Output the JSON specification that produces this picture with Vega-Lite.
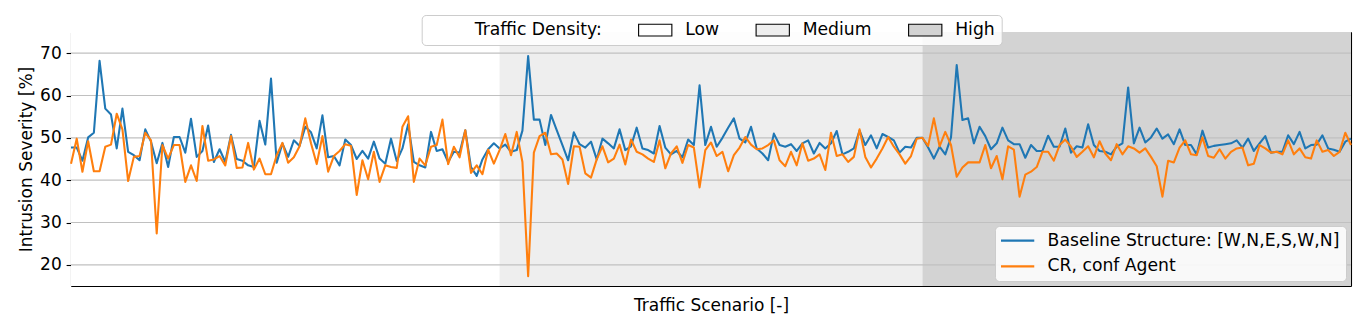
{
  "$schema": "https://vega.github.io/schema/vega-lite/v6.json",
  "width": 1280,
  "height": 254,
  "autosize": {"type": "none"},
  "padding": {"left": 71, "top": 32, "right": 15, "bottom": 35},
  "background": "#ffffff",
  "config": {
    "font": "DejaVu Sans",
    "view": {"stroke": null},
    "axis": {
      "labelFont": "DejaVu Sans",
      "titleFont": "DejaVu Sans",
      "labelFontSize": 17,
      "titleFontSize": 17,
      "titleFontWeight": "normal",
      "labelColor": "#000000",
      "titleColor": "#000000",
      "tickColor": "#000000",
      "domainColor": "#000000",
      "domainWidth": 1.1,
      "tickWidth": 1.1,
      "grid": false,
      "zindex": 1
    },
    "legend": {
      "labelFont": "DejaVu Sans",
      "labelFontSize": 17.2,
      "labelColor": "#000000",
      "labelLimit": 400
    }
  },
  "layer": [
    {
      "data": {
        "values": [
          {"density": "Low", "start": 0, "end": 75},
          {"density": "Medium", "start": 75, "end": 149},
          {"density": "High", "start": 149, "end": 224}
        ]
      },
      "mark": {"type": "rect", "strokeWidth": 0},
      "encoding": {
        "x": {
          "field": "start",
          "type": "quantitative",
          "scale": {"domain": [0, 224], "nice": false, "zero": false},
          "axis": {
            "orient": "bottom",
            "title": "Traffic Scenario [-]",
            "labels": false,
            "ticks": false,
            "domain": true,
            "titlePadding": 11
          }
        },
        "x2": {"field": "end"},
        "fill": {
          "field": "density",
          "type": "nominal",
          "scale": {
            "domain": ["Traffic Density:", "Low", "Medium", "High"],
            "range": ["transparent", "#ffffff", "#eeeeee", "#d3d3d3"]
          },
          "legend": {
            "orient": "none",
            "legendX": 350.7,
            "legendY": -17,
            "direction": "horizontal",
            "title": null,
            "symbolType": "M-1.433,-0.975H4.11V0.975H-1.433Z",
            "symbolSize": 144,
            "symbolStrokeWidth": 1.1,
            "symbolStrokeColor": "#000000",
            "labelOffset": 29.4,
            "columnPadding": 33.5,
            "padding": 6.4,
            "fillColor": "rgba(255,255,255,0.85)",
            "strokeColor": "#cccccc",
            "cornerRadius": 4,
            "zindex": 2,
            "encode": {
              "symbols": {
                "update": {
                  "stroke": {"signal": "datum.value === 'Traffic Density:' ? 'transparent' : '#000000'"}
                }
              }
            }
          }
        }
      }
    },
    {
      "data": {
        "values": [{"g": 20}, {"g": 30}, {"g": 40}, {"g": 50}, {"g": 60}, {"g": 70}]
      },
      "mark": {"type": "rule", "color": "#c0c0c0", "strokeWidth": 1.1},
      "encoding": {
        "y": {
          "field": "g",
          "type": "quantitative",
          "scale": {"domain": [15, 75], "nice": false, "zero": false},
          "axis": {
            "orient": "left",
            "values": [20, 30, 40, 50, 60, 70],
            "title": "Intrusion Severity  [%]",
            "tickSize": 4.9,
            "labelPadding": 4.9,
            "titlePadding": 4,
            "domain": true
          }
        }
      }
    },
    {
      "data": {
        "values": [
{"s":0,"b":47.7,"c":43.9},{"s":1,"b":47.7,"c":49.8},{"s":2,"b":44.6,"c":42.0},{"s":3,"b":50.1,"c":49.2},{"s":4,"b":51.2,"c":42.1},
{"s":5,"b":68.2,"c":42.1},{"s":6,"b":56.9,"c":47.9},{"s":7,"b":55.5,"c":48.4},{"s":8,"b":47.5,"c":55.7},{"s":9,"b":56.9,"c":52.0},
{"s":10,"b":46.7,"c":39.8},{"s":11,"b":45.9,"c":45.5},{"s":12,"b":44.7,"c":45.7},{"s":13,"b":52.0,"c":51.2},{"s":14,"b":49.1,"c":49.4},
{"s":15,"b":44.0,"c":27.4},{"s":16,"b":48.8,"c":48.3},{"s":17,"b":43.1,"c":45.1},{"s":18,"b":50.2,"c":48.3},{"s":19,"b":50.2,"c":48.3},
{"s":20,"b":46.5,"c":39.6},{"s":21,"b":54.5,"c":43.5},{"s":22,"b":45.5,"c":39.8},{"s":23,"b":46.9,"c":52.8},{"s":24,"b":52.9,"c":44.6},
{"s":25,"b":44.3,"c":44.9},{"s":26,"b":47.3,"c":45.7},{"s":27,"b":44.3,"c":43.5},{"s":28,"b":50.7,"c":50.4},{"s":29,"b":45.0,"c":42.9},
{"s":30,"b":44.6,"c":43.0},{"s":31,"b":43.5,"c":48.8},{"s":32,"b":43.1,"c":42.5},{"s":33,"b":54.0,"c":45.1},{"s":34,"b":48.4,"c":41.4},
{"s":35,"b":64.0,"c":41.4},{"s":36,"b":44.1,"c":45.9},{"s":37,"b":48.7,"c":48.8},{"s":38,"b":45.5,"c":44.1},{"s":39,"b":49.4,"c":45.4},
{"s":40,"b":48.1,"c":48.0},{"s":41,"b":52.6,"c":54.6},{"s":42,"b":51.3,"c":48.7},{"s":43,"b":47.5,"c":43.8},{"s":44,"b":55.3,"c":50.4},
{"s":45,"b":45.4,"c":42.0},{"s":46,"b":45.7,"c":45.7},{"s":47,"b":43.5,"c":46.9},{"s":48,"b":49.6,"c":48.5},{"s":49,"b":48.3,"c":48.1},
{"s":50,"b":45.0,"c":36.5},{"s":51,"b":46.9,"c":44.7},{"s":52,"b":45.1,"c":40.2},{"s":53,"b":49.1,"c":46.7},{"s":54,"b":45.1,"c":39.6},
{"s":55,"b":43.9,"c":43.5},{"s":56,"b":49.8,"c":43.1},{"s":57,"b":44.5,"c":42.9},{"s":58,"b":47.5,"c":52.6},{"s":59,"b":53.2,"c":55.1},
{"s":60,"b":44.3,"c":39.6},{"s":61,"b":43.5,"c":45.1},{"s":62,"b":43.0,"c":43.5},{"s":63,"b":51.4,"c":47.9},{"s":64,"b":46.9,"c":48.3},
{"s":65,"b":47.3,"c":54.3},{"s":66,"b":44.3,"c":43.8},{"s":67,"b":46.7,"c":47.9},{"s":68,"b":46.5,"c":45.4},{"s":69,"b":51.8,"c":51.8},
{"s":70,"b":43.1,"c":41.7},{"s":71,"b":41.0,"c":43.5},{"s":72,"b":44.9,"c":41.4},{"s":73,"b":47.3,"c":47.2},{"s":74,"b":48.7,"c":43.9},
{"s":75,"b":47.5,"c":47.1},{"s":76,"b":48.4,"c":50.9},{"s":77,"b":46.7,"c":45.9},{"s":78,"b":47.1,"c":51.4},{"s":79,"b":51.7,"c":44.3},
{"s":80,"b":69.3,"c":17.3},{"s":81,"b":54.3,"c":46.5},{"s":82,"b":54.3,"c":50.4},{"s":83,"b":48.3,"c":51.2},{"s":84,"b":55.4,"c":46.1},
{"s":85,"b":51.8,"c":46.3},{"s":86,"b":48.3,"c":44.9},{"s":87,"b":44.7,"c":39.1},{"s":88,"b":51.3,"c":48.0},{"s":89,"b":48.5,"c":47.9},
{"s":90,"b":47.7,"c":41.6},{"s":91,"b":49.1,"c":40.6},{"s":92,"b":44.9,"c":44.9},{"s":93,"b":49.8,"c":48.0},{"s":94,"b":48.7,"c":44.2},
{"s":95,"b":47.5,"c":45.1},{"s":96,"b":52.0,"c":48.4},{"s":97,"b":47.1,"c":43.7},{"s":98,"b":48.0,"c":49.6},{"s":99,"b":52.4,"c":46.7},
{"s":100,"b":47.5,"c":46.1},{"s":101,"b":47.1,"c":45.1},{"s":102,"b":46.3,"c":44.3},{"s":103,"b":52.8,"c":49.4},{"s":104,"b":47.7,"c":42.8},
{"s":105,"b":46.1,"c":46.3},{"s":106,"b":46.9,"c":48.0},{"s":107,"b":45.4,"c":44.1},{"s":108,"b":49.6,"c":48.3},{"s":109,"b":48.3,"c":47.7},
{"s":110,"b":62.4,"c":38.3},{"s":111,"b":48.3,"c":47.1},{"s":112,"b":52.6,"c":48.9},{"s":113,"b":47.9,"c":45.7},{"s":114,"b":50.0,"c":46.7},
{"s":115,"b":52.4,"c":42.1},{"s":116,"b":54.6,"c":45.9},{"s":117,"b":49.8,"c":47.7},{"s":118,"b":48.9,"c":50.2},{"s":119,"b":52.6,"c":48.4},
{"s":120,"b":47.5,"c":47.3},{"s":121,"b":46.3,"c":47.5},{"s":122,"b":44.7,"c":48.3},{"s":123,"b":51.0,"c":49.4},{"s":124,"b":48.3,"c":44.7},
{"s":125,"b":47.9,"c":43.3},{"s":126,"b":48.5,"c":46.7},{"s":127,"b":46.9,"c":43.5},{"s":128,"b":48.7,"c":48.7},{"s":129,"b":49.4,"c":44.6},
{"s":130,"b":46.3,"c":45.1},{"s":131,"b":48.8,"c":46.1},{"s":132,"b":47.5,"c":42.4},{"s":133,"b":48.7,"c":51.2},{"s":134,"b":51.6,"c":45.7},
{"s":135,"b":46.1,"c":46.1},{"s":136,"b":46.7,"c":44.3},{"s":137,"b":47.5,"c":45.5},{"s":138,"b":51.7,"c":52.0},{"s":139,"b":48.3,"c":45.5},
{"s":140,"b":50.6,"c":43.0},{"s":141,"b":47.5,"c":45.1},{"s":142,"b":50.9,"c":47.5},{"s":143,"b":50.2,"c":50.2},{"s":144,"b":49.4,"c":47.9},
{"s":145,"b":46.5,"c":46.1},{"s":146,"b":47.9,"c":43.9},{"s":147,"b":47.7,"c":45.7},{"s":148,"b":50.0,"c":49.8},{"s":149,"b":50.0,"c":50.0},
{"s":150,"b":47.7,"c":48.1},{"s":151,"b":45.1,"c":54.6},{"s":152,"b":47.9,"c":48.0},{"s":153,"b":46.1,"c":51.4},{"s":154,"b":50.1,"c":48.3},
{"s":155,"b":67.2,"c":40.8},{"s":156,"b":54.2,"c":43.0},{"s":157,"b":54.6,"c":44.2},{"s":158,"b":48.7,"c":44.2},{"s":159,"b":52.6,"c":44.2},
{"s":160,"b":50.4,"c":48.3},{"s":161,"b":47.3,"c":42.8},{"s":162,"b":48.7,"c":45.7},{"s":163,"b":52.4,"c":40.2},{"s":164,"b":49.4,"c":48.0},
{"s":165,"b":48.5,"c":47.2},{"s":166,"b":48.5,"c":36.1},{"s":167,"b":45.3,"c":41.3},{"s":168,"b":48.3,"c":42.0},{"s":169,"b":46.9,"c":43.1},
{"s":170,"b":46.9,"c":46.7},{"s":171,"b":50.5,"c":46.7},{"s":172,"b":47.9,"c":44.6},{"s":173,"b":47.9,"c":48.3},{"s":174,"b":52.2,"c":49.6},
{"s":175,"b":46.5,"c":47.9},{"s":176,"b":48.0,"c":45.5},{"s":177,"b":47.7,"c":46.7},{"s":178,"b":53.2,"c":48.0},{"s":179,"b":48.3,"c":45.4},
{"s":180,"b":46.9,"c":49.2},{"s":181,"b":46.7,"c":46.3},{"s":182,"b":46.1,"c":44.7},{"s":183,"b":47.9,"c":48.5},{"s":184,"b":48.7,"c":46.1},
{"s":185,"b":61.9,"c":48.0},{"s":186,"b":48.7,"c":47.5},{"s":187,"b":52.4,"c":46.5},{"s":188,"b":48.9,"c":47.5},{"s":189,"b":50.1,"c":45.5},
{"s":190,"b":52.2,"c":43.3},{"s":191,"b":49.8,"c":36.1},{"s":192,"b":50.8,"c":44.6},{"s":193,"b":48.5,"c":44.2},{"s":194,"b":52.0,"c":47.7},
{"s":195,"b":48.3,"c":49.4},{"s":196,"b":48.3,"c":46.1},{"s":197,"b":46.1,"c":45.9},{"s":198,"b":51.7,"c":50.1},{"s":199,"b":47.7,"c":45.7},
{"s":200,"b":48.1,"c":45.3},{"s":201,"b":48.3,"c":47.3},{"s":202,"b":48.5,"c":45.1},{"s":203,"b":48.7,"c":46.7},{"s":204,"b":49.4,"c":47.5},
{"s":205,"b":47.7,"c":47.7},{"s":206,"b":49.8,"c":43.5},{"s":207,"b":46.9,"c":43.9},{"s":208,"b":48.7,"c":48.3},{"s":209,"b":50.4,"c":47.5},
{"s":210,"b":46.5,"c":46.5},{"s":211,"b":46.7,"c":46.7},{"s":212,"b":46.7,"c":46.1},{"s":213,"b":50.6,"c":49.4},{"s":214,"b":48.5,"c":46.1},
{"s":215,"b":51.4,"c":47.5},{"s":216,"b":47.5,"c":45.4},{"s":217,"b":48.3,"c":45.1},{"s":218,"b":48.4,"c":49.4},{"s":219,"b":50.6,"c":46.7},
{"s":220,"b":47.5,"c":47.1},{"s":221,"b":47.2,"c":45.7},{"s":222,"b":46.7,"c":46.7},{"s":223,"b":49.1,"c":51.2},{"s":224,"b":49.8,"c":48.3}
        ]
      },
      "transform": [{"fold": ["b", "c"], "as": ["series", "value"]}],
      "mark": {"type": "line", "strokeWidth": 2.08, "strokeJoin": "round"},
      "encoding": {
        "x": {
          "field": "s",
          "type": "quantitative",
          "scale": {"domain": [0, 224], "nice": false, "zero": false},
          "axis": {"orient": "top", "labels": false, "ticks": false, "title": null, "domain": true}
        },
        "y": {
          "field": "value",
          "type": "quantitative",
          "scale": {"domain": [15, 75], "nice": false, "zero": false},
          "axis": {"orient": "right", "labels": false, "ticks": false, "title": null, "domain": true}
        },
        "stroke": {
          "field": "series",
          "type": "nominal",
          "scale": {"domain": ["b", "c"], "range": ["#1f77b4", "#ff7f0e"]},
          "legend": {
            "orient": "none",
            "legendX": 924,
            "legendY": 194,
            "title": null,
            "labelExpr": "datum.value === 'b' ? 'Baseline Structure: [W,N,E,S,W,N]' : 'CR, conf Agent'",
            "symbolType": "M-1.433,0H4.11",
            "symbolSize": 144,
            "symbolStrokeWidth": 2.08,
            "labelOffset": 29.4,
            "rowPadding": 7.8,
            "padding": 6,
            "fillColor": "rgba(255,255,255,0.85)",
            "strokeColor": "#cccccc",
            "cornerRadius": 4,
            "zindex": 2
          }
        }
      }
    }
  ],
  "resolve": {"axis": {"x": "independent", "y": "independent"}}
}
